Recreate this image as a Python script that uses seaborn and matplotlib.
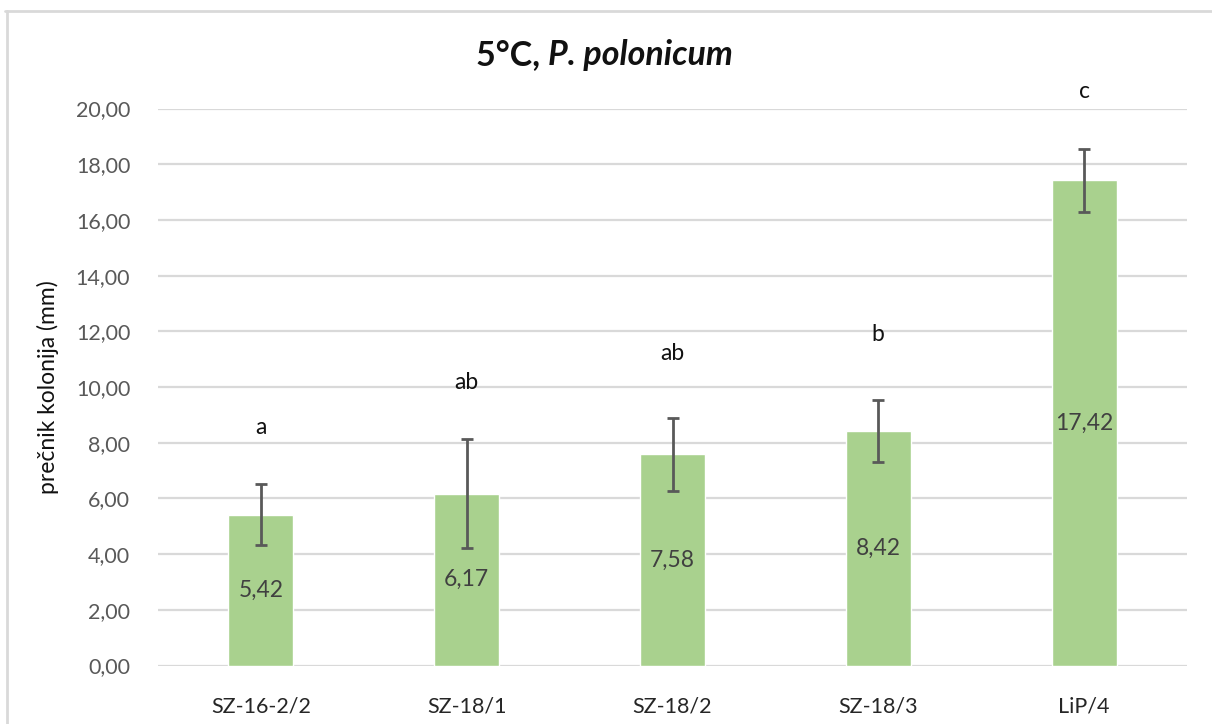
import matplotlib
matplotlib.use("Agg")
import matplotlib.pyplot as plt
from matplotlib.lines import Line2D
import seaborn as sns
import pandas as pd

# Strains, mean colony diameters and their spread
strains = ["SZ-16-2/2", "SZ-18/1", "SZ-18/2", "SZ-18/3", "LiP/4"]
mean_diam = [5.42, 6.17, 7.58, 8.42, 17.42]
err_diam = [1.10, 1.95, 1.31, 1.11, 1.12]

# Significance groups and the heights where they are written
groups = ["a", "ab", "ab", "b", "c"]
group_y = [8.55, 10.15, 11.2, 11.9, 20.6]

yticks = [0, 2, 4, 6, 8, 10, 12, 14, 16, 18, 20]

df = pd.DataFrame({"strain": strains, "diam": mean_diam})

sns.set_theme(style="white")
plt.rcParams["font.family"] = ["Lato", "DejaVu Sans"]

W, H = 1212, 724
fig = plt.figure(figsize=(W / 100, H / 100), dpi=100)
ax = fig.add_axes([158 / W, 1 - 665.5 / H, (1187 - 158) / W, (665.5 - 108.5) / H])

sns.barplot(data=df, x="strain", y="diam", color="#A9D18E", saturation=1,
            width=0.315, errorbar=None, ax=ax, zorder=2)

centers = [p.get_x() + p.get_width() / 2 for p in ax.patches]
ax.errorbar(centers, mean_diam, yerr=err_diam, fmt="none", ecolor="#595959",
            elinewidth=2, capsize=4.2, capthick=2, zorder=3)

def fmt(v):
    return f"{v:.2f}".replace(".", ",")

for x, v in zip(centers, mean_diam):
    ax.text(x, v / 2, fmt(v), ha="center", va="center", fontsize=16.5,
            color="#404040", zorder=4)

for x, g, gy in zip(centers, groups, group_y):
    ax.text(x, gy, g, ha="center", va="center", fontsize=16.5,
            color="#111111", clip_on=False, zorder=4)

ax.set_ylim(0, 20)
ax.set_yticks(yticks)
ax.set_yticklabels([fmt(t) for t in yticks], fontsize=15.5, color="#595959")
ax.set_xlim(-0.5, len(strains) - 0.5)
ax.tick_params(axis="x", labelsize=15.5, colors="#262626", length=0, pad=22)
ax.tick_params(axis="y", length=0, pad=20)
ax.yaxis.grid(True, color="#D9D9D9", linewidth=1.6, zorder=0)
ax.set_axisbelow(True)
for s in ax.spines.values():
    s.set_visible(False)
ax.set_xlabel("")
ax.set_ylabel("prečnik kolonija (mm)", fontsize=16.5, color="#111111", labelpad=12)

# Title: plain temperature, italic species name
fig.text(548 / W, 1 - 55 / H, "5°C, ", ha="right", va="center",
         fontsize=24.5, fontweight="bold", style="normal", color="#111111")
fig.text(548 / W, 1 - 55 / H, "P. polonicum", ha="left", va="center",
         fontsize=24.5, fontweight="bold", style="italic", color="#111111")

# Chart-area outline (top and left edges)
fig.add_artist(Line2D([5 / W, 1], [1 - 11 / H, 1 - 11 / H], color="#D9D9D9",
                      linewidth=2, transform=fig.transFigure))
fig.add_artist(Line2D([7 / W, 7 / W], [0, 1 - 11 / H], color="#D9D9D9",
                      linewidth=2, transform=fig.transFigure))

fig.savefig("out.png", dpi=100)
